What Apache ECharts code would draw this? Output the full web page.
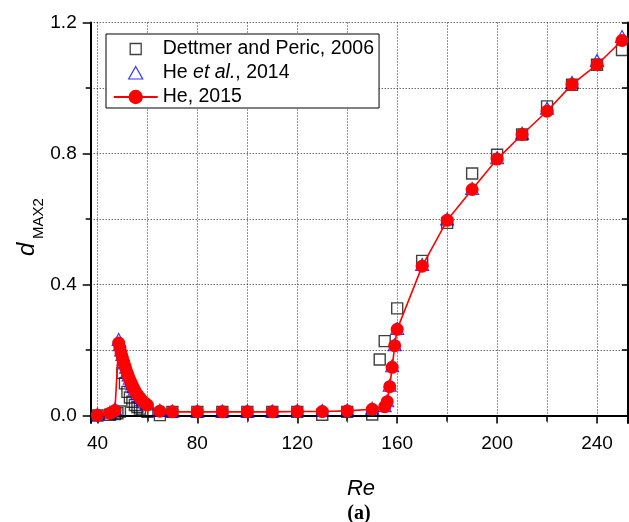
<!DOCTYPE html>
<html>
<head>
<meta charset="utf-8">
<script src="https://cdn.jsdelivr.net/npm/echarts@6/dist/echarts.min.js"></script>
<style>
  html, body { margin: 0; padding: 0; background: #fff; }
  #chart { width: 629px; height: 522px; }
</style>
</head>
<body>
<div id="chart"></div>
<script>
// Dettmer and Peric (2006)
const reDettmer = [40, 45, 47, 48, 49, 50, 51, 52, 53, 54, 55, 56, 57, 58, 60, 65, 70, 80, 90, 100, 110, 120, 130, 140, 150, 153, 155, 160, 170, 180, 190, 200, 210, 220, 230, 240, 250];
const dDettmer = [0.0, 0.002, 0.004, 0.007, 0.012, 0.13, 0.098, 0.072, 0.055, 0.042, 0.032, 0.026, 0.021, 0.017, 0.011, 0.001, 0.011, 0.011, 0.011, 0.011, 0.011, 0.011, 0.002, 0.011, 0.003, 0.171, 0.227, 0.327, 0.472, 0.588, 0.739, 0.796, 0.858, 0.944, 1.01, 1.071, 1.116];

// He et al. (2014)
const reHe2014 = [40, 45, 47, 48.5, 49, 49.5, 50, 50.5, 51, 51.5, 52, 52.5, 53, 53.5, 54, 54.5, 55, 56, 57, 58, 59, 60, 65, 70, 80, 90, 100, 110, 120, 130, 140, 150, 155, 156, 157, 158, 159, 160, 170, 180, 190, 200, 210, 220, 230, 240, 250];
const dHe2014 = [0.004, 0.01, 0.02, 0.232, 0.216, 0.2, 0.186, 0.172, 0.16, 0.147, 0.135, 0.124, 0.114, 0.105, 0.096, 0.088, 0.081, 0.068, 0.058, 0.049, 0.041, 0.035, 0.016, 0.014, 0.014, 0.014, 0.014, 0.014, 0.015, 0.015, 0.017, 0.022, 0.03, 0.045, 0.092, 0.152, 0.216, 0.266, 0.461, 0.6, 0.693, 0.787, 0.862, 0.938, 1.017, 1.084, 1.157];

// He (2015)
const reHe2015 = [40, 45, 47, 48.5, 49, 49.5, 50, 50.5, 51, 51.5, 52, 52.5, 53, 53.5, 54, 54.5, 55, 56, 57, 58, 59, 60, 65, 70, 80, 90, 100, 110, 120, 130, 140, 150, 155, 156, 157, 158, 159, 160, 170, 180, 190, 200, 210, 220, 230, 240, 250];
const dHe2015 = [0.001, 0.007, 0.015, 0.221, 0.206, 0.19, 0.176, 0.163, 0.151, 0.139, 0.128, 0.118, 0.108, 0.099, 0.091, 0.083, 0.076, 0.064, 0.054, 0.045, 0.038, 0.032, 0.013, 0.011, 0.011, 0.011, 0.011, 0.011, 0.012, 0.012, 0.014, 0.019, 0.027, 0.042, 0.088, 0.147, 0.213, 0.263, 0.456, 0.596, 0.69, 0.783, 0.858, 0.929, 1.011, 1.071, 1.145];

// Axis ticks and labels
const xLabelValues = [40, 80, 120, 160, 200, 240];
const xMinorValues = [40, 60, 80, 100, 120, 140, 160, 180, 200, 220, 240];
const yLabelValues = [0, 0.4, 0.8, 1.2];
const yMinorValues = [0, 0.2, 0.4, 0.6, 0.8, 1.0, 1.2];

const X_MIN = 37.3, X_MAX = 252.4;
const Y_MIN = -0.023, Y_MAX = 1.2;
const FONT = '"Liberation Sans", Arial, sans-serif';

const pairs = (xs, ys) => xs.map((x, i) => [x, ys[i]]);

const gridDash = { color: '#2a2a2a', width: 1, type: [1, 2] };
const frameLine = { show: true, lineStyle: { color: '#000', width: 2 } };

function xAxisBase(extra) {
  return Object.assign({
    type: 'value', min: X_MIN, max: X_MAX,
    axisLine: { show: false },
    axisTick: { show: false },
    axisLabel: { show: false },
    splitLine: { show: false }
  }, extra);
}
function yAxisBase(extra) {
  return Object.assign({
    type: 'value', min: Y_MIN, max: Y_MAX,
    axisLine: { show: false },
    axisTick: { show: false },
    axisLabel: { show: false },
    splitLine: { show: false }
  }, extra);
}

const chart = echarts.init(document.getElementById('chart'), null, { renderer: 'canvas' });

chart.setOption({
  animation: false,
  backgroundColor: '#fff',
  grid: { left: 90.7, right: 1, top: 22.5, bottom: 99, containLabel: false, outerBoundsMode: 'none' },
  xAxis: [
    xAxisBase({
      position: 'bottom',
      axisLine: frameLine,
      axisTick: { show: true, inside: false, length: 5, customValues: xMinorValues, lineStyle: { color: '#000', width: 1.5 } },
      axisLabel: {
        show: true, customValues: xLabelValues, margin: 11,
        color: '#000', fontSize: 19, fontFamily: FONT,
        formatter: v => String(v)
      },
      splitLine: { show: true, lineStyle: gridDash }
    }),
    xAxisBase({
      position: 'bottom',
      axisTick: { show: true, inside: false, length: 8, customValues: xLabelValues, lineStyle: { color: '#000', width: 1.5 } }
    }),
    xAxisBase({
      position: 'top',
      axisLine: frameLine,
      axisTick: { show: true, inside: true, length: 6, customValues: xMinorValues, lineStyle: { color: '#000', width: 1.5 } }
    })
  ],
  yAxis: [
    yAxisBase({
      position: 'left',
      axisLine: frameLine,
      axisTick: { show: true, inside: false, length: 5, customValues: yMinorValues, lineStyle: { color: '#000', width: 1.5 } },
      axisLabel: {
        show: true, customValues: yLabelValues, margin: 14,
        color: '#000', fontSize: 19, fontFamily: FONT,
        formatter: v => v.toFixed(1)
      },
      splitLine: { show: true, lineStyle: gridDash }
    }),
    yAxisBase({
      position: 'left',
      axisTick: { show: true, inside: false, length: 8, customValues: yLabelValues, lineStyle: { color: '#000', width: 1.5 } }
    }),
    yAxisBase({
      position: 'right',
      axisLine: frameLine,
      axisTick: { show: true, inside: true, length: 6, customValues: yMinorValues, lineStyle: { color: '#000', width: 1.5 } }
    })
  ],
  legend: {
    orient: 'vertical',
    left: 106, top: 34,
    padding: [5, 5, 1, 6.7],
    itemWidth: 44, itemHeight: 18, itemGap: 4,
    backgroundColor: '#fff',
    borderColor: '#000', borderWidth: 1,
    selectedMode: false,
    textStyle: {
      color: '#000', fontSize: 19.5, fontFamily: FONT,
      rich: {
        n: { color: '#000', fontSize: 19.5, fontFamily: FONT },
        i: { color: '#000', fontSize: 19.5, fontFamily: FONT, fontStyle: 'italic' }
      }
    },
    formatter: name => name === 'He et al., 2014' ? '{n|He }{i|et al.}{n|, 2014}' : name,
    data: [
      {
        name: 'Dettmer and Peric, 2006',
        icon: 'path://M0,0M18,18M3.5,3.5L14.5,3.5L14.5,14.5L3.5,14.5Z',
        itemStyle: { color: 'rgba(0,0,0,0)', borderColor: '#111', borderWidth: 1.3 }
      },
      {
        name: 'He et al., 2014',
        icon: 'path://M0,0M18,18M9,2.5L16,15L2,15Z',
        itemStyle: { color: 'rgba(0,0,0,0)', borderColor: '#0000ff', borderWidth: 1.2 }
      },
      { name: 'He, 2015' }
    ]
  },
  graphic: [
    {
      type: 'group', x: 35, y: 256, rotation: Math.PI / 2, silent: true,
      children: [
        { type: 'text', x: 0, y: -8, style: { text: 'd', font: 'italic 24px ' + FONT, fill: '#000', textAlign: 'left', textVerticalAlign: 'middle' } },
        { type: 'text', x: 17, y: 3.5, style: { text: 'MAX2', font: '15px ' + FONT, fill: '#000', textAlign: 'left', textVerticalAlign: 'middle' } }
      ]
    },
    { type: 'text', x: 361, y: 489, silent: true, style: { text: 'Re', font: 'italic 22px ' + FONT, fill: '#000', textAlign: 'center', textVerticalAlign: 'middle' } },
    { type: 'text', x: 359, y: 514, silent: true, style: { text: '(a)', font: 'bold 20px "Liberation Serif", "Times New Roman", serif', fill: '#000', textAlign: 'center', textVerticalAlign: 'middle' } }
  ],
  series: [
    {
      name: 'Dettmer and Peric, 2006',
      type: 'scatter',
      xAxisIndex: 0, yAxisIndex: 0,
      symbol: 'rect', symbolSize: 11,
      itemStyle: { color: 'rgba(0,0,0,0)', borderColor: '#111', borderWidth: 1.4 },
      data: pairs(reDettmer, dDettmer),
      z: 2
    },
    {
      name: 'He et al., 2014',
      type: 'scatter',
      xAxisIndex: 0, yAxisIndex: 0,
      symbol: 'triangle', symbolSize: [13, 12],
      itemStyle: { color: 'rgba(0,0,0,0)', borderColor: '#0000ff', borderWidth: 1.1 },
      data: pairs(reHe2014, dHe2014),
      z: 3
    },
    {
      name: 'He, 2015',
      type: 'line',
      xAxisIndex: 0, yAxisIndex: 0,
      symbol: 'circle', symbolSize: 13, showSymbol: true,
      lineStyle: { color: '#ff0000', width: 1.6 },
      itemStyle: { color: '#ff0000', borderWidth: 0 },
      data: pairs(reHe2015, dHe2015),
      z: 4
    }
  ]
});
</script>
</body>
</html>
